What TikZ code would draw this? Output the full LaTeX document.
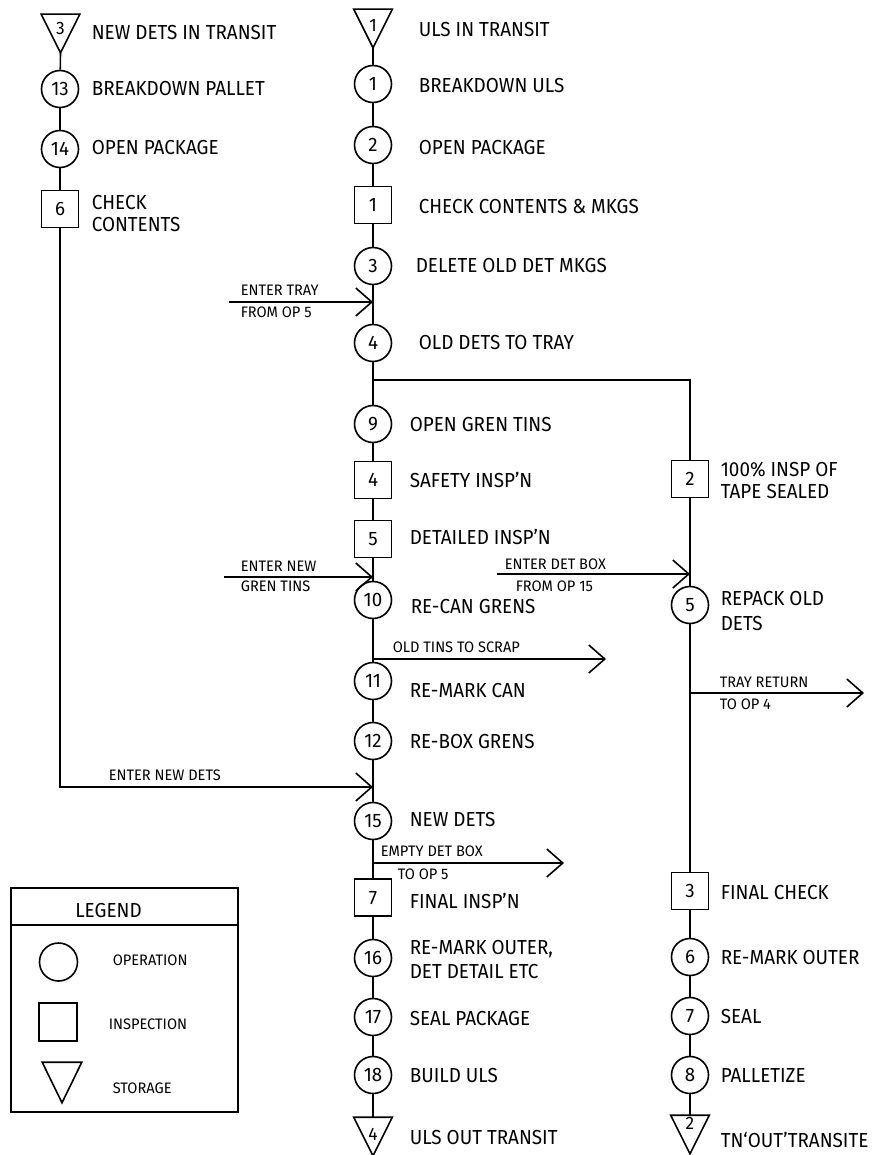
\documentclass[tikz,border=0pt]{standalone}
\usepackage{fontspec}
\setmainfont[FakeStretch=0.96]{Fira Sans}
\newfontfamily\lblfont[FakeStretch=0.93]{Fira Sans}
\usetikzlibrary{arrows.meta}
\begin{document}
\begin{tikzpicture}[x=1pt,y=-1pt,line width=1.6pt,
  op/.style={circle,draw,minimum size=37pt,inner sep=0pt,text height=13.5pt,text depth=0pt,font=\fontsize{19.5}{19.5}\selectfont},
  insp/.style={rectangle,draw,minimum size=37pt,inner sep=0pt,text height=13.5pt,text depth=0pt,font=\fontsize{19.5}{19.5}\selectfont},
  stor/.style={rectangle,minimum width=37pt,minimum height=37pt,inner sep=0pt,text height=12.5pt,text depth=0pt,font=\fontsize{18}{18}\selectfont},
  lbl/.style={anchor=west,inner sep=0pt,text height=14pt,text depth=0pt,font=\lblfont\fontsize{20.3}{20.3}\selectfont},
  sml/.style={anchor=west,inner sep=0pt,text height=10.5pt,text depth=0pt,font=\fontsize{15.2}{15.2}\selectfont},
  arr/.style={-{Straight Barb[length=16pt,width=28pt]}},
]
\useasboundingbox (0,0) rectangle (873,1155);
% ---------------- left column
\node[stor] (t3) at (60.5,33.5) {\raisebox{5.5pt}{3}};
\draw (t3.north west) -- (t3.north east) -- (t3.south) -- cycle;
\node[op] (c13) at (60,89) {13};
\node[op] (c14) at (60,149) {14};
\node[insp] (s6) at (60,209) {6};
\node[lbl] (lt3) at (91,33) {NEW DETS IN TRANSIT};
\node[lbl] (lc13) at (91,89) {BREAKDOWN PALLET};
\node[lbl] (lc14) at (91,148) {OPEN PACKAGE};
\node[lbl] (ls6a) at (91,203) {CHECK};
\node[lbl] (ls6b) at (91,225) {CONTENTS};
\draw (t3.south) -- (c13);
\draw (c13) -- (c14);
\draw (c14) -- (s6);
\coordinate (l1) at (60,787);
\coordinate (j5) at (373,787);
\draw[arr] (s6) -- (l1) -- (j5);
\node[sml] (lnd) at (108,775) {ENTER NEW DETS};
% ---------------- main column
\node[stor] (t1) at (373,28.5) {\raisebox{3.5pt}{1}};
\draw (t1.north west) -- (t1.north east) -- (t1.south) -- cycle;
\node[op] (c1) at (373,84) {1};
\node[op] (c2) at (373,145) {2};
\node[insp] (s1) at (373,205) {1};
\node[op] (c3) at (373,266) {3};
\node[op] (c4) at (373,343) {4};
\node[op] (c9) at (373,424) {9};
\node[insp] (s4) at (373,480) {4};
\node[insp] (s5) at (373,539) {5};
\node[op] (c10) at (373,600) {10};
\node[op] (c11) at (373,681) {11};
\node[op] (c12) at (373,741) {12};
\node[op] (c15) at (373,821) {15};
\node[insp] (s7) at (373,897.5) {7};
\node[op] (c16) at (373,958) {16};
\node[op] (c17) at (373,1017) {17};
\node[op] (c18) at (373,1075) {18};
\node[stor] (t4) at (373,1136.5) {\raisebox{2pt}{4}};
\draw (t4.north west) -- (t4.north east) -- (t4.south) -- cycle;
\draw (t1.south) -- (c1);
\draw (c1) -- (c2);
\draw (c2) -- (s1);
\draw (s1) -- (c3);
\draw (c3) -- (c4);
\draw (c4) -- (c9);
\draw (c9) -- (s4);
\draw (s4) -- (s5);
\draw (s5) -- (c10);
\draw (c10) -- (c11);
\draw (c11) -- (c12);
\draw (c12) -- (c15);
\draw (c15) -- (s7);
\draw (s7) -- (c16);
\draw (c16) -- (c17);
\draw (c17) -- (c18);
\draw (c18) -- (t4.north);
\node[lbl] (lt1) at (418,30) {ULS IN TRANSIT};
\node[lbl] (lc1) at (418,86) {BREAKDOWN ULS};
\node[lbl] (lc2) at (418,148) {OPEN PACKAGE};
\node[lbl] (ls1) at (418,207) {CHECK CONTENTS \& MKGS};
\node[lbl] (lc3) at (415,265.5) {DELETE OLD DET MKGS};
\node[lbl] (lc4) at (418,342) {OLD DETS TO TRAY};
\node[lbl] (lc9) at (409,424) {OPEN GREN TINS};
\node[lbl] (ls4) at (409,480) {SAFETY INSP’N};
\node[lbl] (ls5) at (409,537) {DETAILED INSP’N};
\node[lbl] (lc10) at (410,606) {RE-CAN GRENS};
\node[lbl] (lc11) at (409,690) {RE-MARK CAN};
\node[lbl] (lc12) at (409,741) {RE-BOX GRENS};
\node[lbl] (lc15) at (409,819) {NEW DETS};
\node[lbl] (ls7) at (409,901) {FINAL INSP’N};
\node[lbl] (lc16a) at (409,947) {RE-MARK OUTER,};
\node[lbl] (lc16b) at (409,971) {DET DETAIL ETC};
\node[lbl] (lc17) at (409,1018) {SEAL PACKAGE};
\node[lbl] (lc18) at (409,1075) {BUILD ULS};
\node[lbl] (lt4) at (409,1137) {ULS OUT TRANSIT};
% side arrows on main column
\coordinate (e1) at (229,302);
\coordinate (j1) at (373,302);
\draw[arr] (e1) -- (j1);
\node[sml] (le1a) at (240,290) {ENTER TRAY};
\node[sml] (le1b) at (240,312) {FROM OP 5};
\coordinate (e2) at (224,577);
\coordinate (j2) at (373,577);
\draw[arr] (e2) -- (j2);
\node[sml] (le2a) at (240,566) {ENTER NEW};
\node[sml] (le2b) at (240,586) {GREN TINS};
\coordinate (j3) at (373,659);
\coordinate (e3) at (606,659);
\draw[arr] (j3) -- (e3);
\node[sml] (le3) at (392,647) {OLD TINS TO SCRAP};
\coordinate (j4) at (373,863);
\coordinate (e4) at (564,863);
\draw[arr] (j4) -- (e4);
\node[sml] (le4a) at (380,851) {EMPTY DET BOX};
\node[sml] (le4b) at (397,874) {TO OP 5};
% ---------------- right column
\coordinate (b1) at (373,380);
\node[insp] (s2) at (690,479) {2};
\node[op] (c5) at (690,605) {5};
\node[insp] (s3) at (690,891) {3};
\node[op] (c6) at (690,957) {6};
\node[op] (c7) at (690,1016) {7};
\node[op] (c8) at (690,1075) {8};
\node[stor] (t2) at (690,1134.5) {\raisebox{11pt}{2}};
\draw (t2.north west) -- (t2.north east) -- (t2.south) -- cycle;
\draw (b1) -| (s2);
\draw (s2) -- (c5);
\draw (c5) -- (s3);
\draw (s3) -- (c6);
\draw (c6) -- (c7);
\draw (c7) -- (c8);
\draw (c8) -- (t2.north);
\node[lbl] (ls2a) at (720,469) {100\% INSP OF};
\node[lbl] (ls2b) at (720,491) {TAPE SEALED};
\node[lbl] (lc5a) at (720,598) {REPACK OLD};
\node[lbl] (lc5b) at (720,623) {DETS};
\node[lbl] (ls3) at (720,892) {FINAL CHECK};
\node[lbl] (lc6) at (720,957) {RE-MARK OUTER};
\node[lbl] (lc7) at (720,1016) {SEAL};
\node[lbl] (lc8) at (720,1075) {PALLETIZE};
\node[lbl] (lt2) at (720,1140) {TN‘OUT’TRANSITE};
\coordinate (e5) at (497,574);
\coordinate (j6) at (690,574);
\draw[arr] (e5) -- (j6);
\node[sml] (le5a) at (504,564) {ENTER DET BOX};
\node[sml] (le5b) at (515,586) {FROM OP 15};
\coordinate (j7) at (690,693);
\coordinate (e6) at (864,693);
\draw[arr] (j7) -- (e6);
\node[sml] (le6a) at (719,682) {TRAY RETURN};
\node[sml] (le6b) at (719,704) {TO OP 4};
% ---------------- legend
\node[draw,rectangle,minimum width=227pt,minimum height=37pt,inner sep=0pt,anchor=north west] (leghead) at (10,887) {};
\node[draw,rectangle,minimum width=227pt,minimum height=187pt,inner sep=0pt,anchor=north west] (legbody) at (10,924) {};
\node[lbl,anchor=center] (legtitle) at (108.5,910) {LEGEND};
\node[circle,draw,minimum size=38pt,inner sep=0pt] (lgc) at (58.5,962) {};
\node[rectangle,draw,minimum size=38pt,inner sep=0pt] (lgs) at (58,1022) {};
\node[rectangle,minimum width=38pt,minimum height=39pt,inner sep=0pt] (lgt) at (62,1082.5) {};
\draw (lgt.north west) -- (lgt.north east) -- (lgt.south) -- cycle;
\node[sml] (lgcl) at (112,960) {OPERATION};
\node[sml] (lgsl) at (108,1024) {INSPECTION};
\node[sml] (lgtl) at (112,1088) {STORAGE};
\end{tikzpicture}
\end{document}
